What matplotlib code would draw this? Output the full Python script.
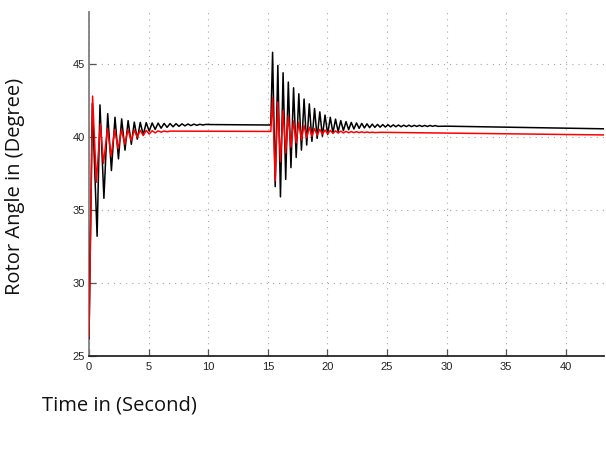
import numpy as np
import matplotlib
matplotlib.use("Agg")
import matplotlib.pyplot as plt
from matplotlib import font_manager

# ---------------- data ----------------
# Black curve, first disturbance (t = 0 s)
blk_start = (0.0, 26.2)
blk1_peak_t = [0.28, 0.92, 1.57, 2.18, 2.74, 3.28, 3.80, 4.30, 4.80, 5.30,
               5.80, 6.30, 6.80, 7.30, 7.80, 8.30, 8.80, 9.30, 9.80]
blk1_peak_v = [42.3, 42.2, 41.6, 41.35, 41.24, 41.12, 41.02, 41.0, 40.98, 40.96,
               40.95, 40.93, 40.92, 40.91, 40.9, 40.89, 40.88, 40.87, 40.86]
blk1_trough_t = [0.68, 1.25, 1.88, 2.47, 3.02, 3.55, 4.05, 4.55, 5.05, 5.55,
                 6.05, 6.55, 7.05, 7.55, 8.05, 8.55, 9.05, 9.55]
blk1_trough_v = [33.2, 35.8, 37.7, 38.5, 39.1, 39.5, 39.85, 40.15, 40.4, 40.52,
                 40.6, 40.66, 40.7, 40.73, 40.76, 40.78, 40.8, 40.82]
blk_mid_t = [10.3, 15.25]
blk_mid_v = [40.85, 40.82]
# Black curve, second disturbance (t ~ 15.25 s)
blk2_peak_t = [15.40, 15.84, 16.28, 16.72, 17.16, 17.60, 18.04, 18.48, 18.92, 19.36,
               19.80, 20.24, 20.68, 21.12, 21.56, 22.00, 22.44, 22.88, 23.32, 23.76,
               24.20, 24.64, 25.08, 25.52, 25.96, 26.40, 26.84, 27.28, 27.72, 28.16,
               28.60, 29.04]
blk2_peak_v = [45.8, 44.9, 44.4, 43.76, 43.37, 42.96, 42.6, 42.27, 41.95, 41.72,
               41.5, 41.35, 41.22, 41.12, 41.05, 41.0, 40.96, 40.93, 40.9, 40.88,
               40.86, 40.85, 40.84, 40.83, 40.82, 40.81, 40.81, 40.8, 40.8, 40.79,
               40.79, 40.78]
blk2_trough_t = [15.62, 16.06, 16.50, 16.94, 17.38, 17.82, 18.26, 18.70, 19.14, 19.58,
                 20.02, 20.46, 20.90, 21.34, 21.78, 22.22, 22.66, 23.10, 23.54, 23.98,
                 24.42, 24.86, 25.30, 25.74, 26.18, 26.62, 27.06, 27.50, 27.94, 28.38,
                 28.82, 29.26]
blk2_trough_v = [36.6, 35.9, 37.1, 37.9, 38.6, 39.1, 39.45, 39.7, 39.9, 40.05,
                 40.18, 40.28, 40.37, 40.44, 40.5, 40.55, 40.59, 40.62, 40.64, 40.66,
                 40.67, 40.68, 40.69, 40.7, 40.7, 40.71, 40.71, 40.72, 40.72, 40.72,
                 40.73, 40.73]
blk_end_t = [30.0, 43.2]
blk_end_v = [40.74, 40.56]

# Red curve, first disturbance
red_start = (0.0, 26.3)
red1_peak_t = [0.30, 0.95, 1.55, 2.15, 2.72, 3.27, 3.80, 4.30, 4.80, 5.30, 5.80, 6.30, 6.80]
red1_peak_v = [42.8, 40.9, 40.6, 40.5, 40.5, 40.5, 40.48, 40.46, 40.45, 40.43, 40.42, 40.41, 40.4]
red1_trough_t = [0.62, 1.22, 1.85, 2.45, 3.00, 3.55, 4.05, 4.55, 5.05, 5.55, 6.05, 6.55]
red1_trough_v = [36.9, 38.2, 38.7, 39.2, 39.5, 39.75, 39.98, 40.1, 40.2, 40.28, 40.33, 40.36]
red_mid_t = [7.5, 15.25]
red_mid_v = [40.4, 40.38]
# Red curve, second disturbance
red2_peak_t = blk2_peak_t[:20]
red2_peak_v = [42.7, 42.4, 41.8, 41.46, 41.1, 41.0, 40.8, 40.67, 40.58, 40.52,
               40.48, 40.45, 40.42, 40.4, 40.38, 40.37, 40.36, 40.35, 40.34, 40.33]
red2_trough_t = blk2_trough_t[:20]
red2_trough_v = [37.0, 38.3, 38.9, 39.3, 39.6, 39.8, 39.95, 40.05, 40.12, 40.18,
                 40.22, 40.25, 40.27, 40.28, 40.29, 40.3, 40.3, 40.3, 40.3, 40.3]
red_end_t = [24.5, 43.2]
red_end_v = [40.32, 40.14]

x_ticks = [0, 5, 10, 15, 20, 25, 30, 35, 40]
y_ticks = [25, 30, 35, 40, 45]
x_label = "Time in (Second)"
y_label = "Rotor Angle in (Degree)"


def interleave(pt, pv, tt, tv):
    t = list(pt) + list(tt)
    v = list(pv) + list(tv)
    order = np.argsort(t)
    return list(np.array(t)[order]), list(np.array(v)[order])


def build(start, p1t, p1v, t1t, t1v, midt, midv, p2t, p2v, t2t, t2v, endt, endv):
    t = [start[0]]
    v = [start[1]]
    a, b = interleave(p1t, p1v, t1t, t1v)
    t += a; v += b
    t += midt; v += midv
    a, b = interleave(p2t, p2v, t2t, t2v)
    t += a; v += b
    t += endt; v += endv
    return np.array(t), np.array(v)


bt, bv = build(blk_start, blk1_peak_t, blk1_peak_v, blk1_trough_t, blk1_trough_v,
               blk_mid_t, blk_mid_v, blk2_peak_t, blk2_peak_v, blk2_trough_t, blk2_trough_v,
               blk_end_t, blk_end_v)
rt, rv = build(red_start, red1_peak_t, red1_peak_v, red1_trough_t, red1_trough_v,
               red_mid_t, red_mid_v, red2_peak_t, red2_peak_v, red2_trough_t, red2_trough_v,
               red_end_t, red_end_v)

# ---------------- fonts ----------------
names = {f.name for f in font_manager.fontManager.ttflist}
if "Liberation Sans Narrow" in names:
    tick_family = ["Liberation Sans Narrow", "DejaVu Sans"]
else:
    tick_family = ["Liberation Sans", "DejaVu Sans"]
label_family = ["Open Sans", "DejaVu Sans"]

# ---------------- figure ----------------
fig = plt.figure(figsize=(6.06, 4.49), dpi=100)
ax = fig.add_axes([89 / 606, 1 - 356 / 449, (604 - 89) / 606, (356 - 12) / 449])

ax.plot(bt, bv, color="#000000", lw=1.1, solid_joinstyle="round", zorder=3)
ax.plot(rt, rv, color="#ff0000", lw=1.1, solid_joinstyle="round", zorder=4)

ax.set_xlim(0, 43.2)
ax.set_ylim(25, 48.56)
ax.set_xticks(x_ticks)
ax.set_yticks(y_ticks)

for s in ["top", "right"]:
    ax.spines[s].set_visible(False)
ax.spines["left"].set_color("#7f7f7f")
ax.spines["left"].set_linewidth(1.3)
ax.spines["bottom"].set_color("#262626")
ax.spines["bottom"].set_linewidth(1.3)

ax.tick_params(axis="both", direction="in", length=5, width=0.9, colors="#555555",
               labelcolor="#222222", labelsize=8)
ax.tick_params(axis="x", pad=4)
ax.tick_params(axis="y", pad=3)
for lab in ax.get_xticklabels() + ax.get_yticklabels():
    lab.set_family(tick_family)

ax.grid(True, color="#a8a8a8", linestyle=(0, (1, 4.5)), linewidth=0.8)
ax.set_axisbelow(True)

fig.text(15 / 606, 1 - 186 / 449, y_label, rotation=90, ha="center", va="center",
         fontsize=14.5, family=label_family, color="#111111")
fig.text(42 / 606, 1 - 405 / 449, x_label, ha="left", va="center",
         fontsize=14.5, family=label_family, color="#111111")

fig.savefig("out.png", dpi=100)
